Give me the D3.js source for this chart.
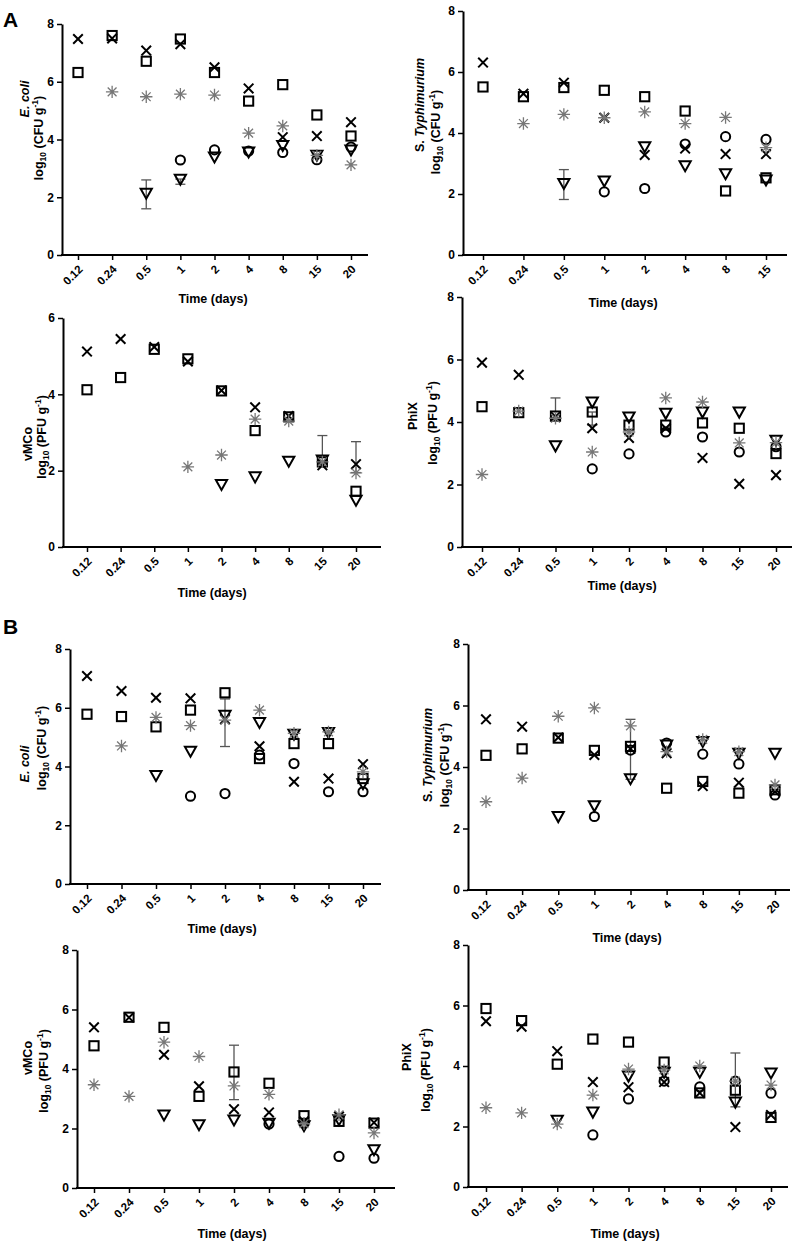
<!DOCTYPE html>
<html><head><meta charset="utf-8">
<script src="https://cdn.jsdelivr.net/npm/d3@7"></script>
<style>
body{margin:0;background:#fff;}
svg{display:block;font-family:"Liberation Sans",Arial,sans-serif;font-weight:bold;}
</style></head>
<body><svg id="c" width="800" height="1249"></svg>
<script>
// ---------- data ----------
const catsFull = ["0.12","0.24","0.5","1","2","4","8","15","20"];
const catsShort = ["0.12","0.24","0.5","1","2","4","8","15"];
const yTicks6 = [0,2,4,6];
const yTicks8 = [0,2,4,6,8];

// A: E. coli
const aEcoliCross  = [7.48,7.5,7.08,7.3,6.5,5.77,4.08,4.12,4.6];
const aEcoliSquare = [6.32,7.6,6.71,7.48,6.32,5.33,5.9,4.85,4.12];
const aEcoliStar   = [null,5.65,5.48,5.57,5.54,4.22,4.47,3.45,3.12];
const aEcoliCircle = [null,null,null,3.29,3.64,3.6,3.55,3.3,3.74];
const aEcoliTri    = [null,null,2.14,2.63,3.4,3.57,3.8,3.46,3.64];
const aEcoliErr    = [["0.5",1.6,2.6],["1",2.45,2.63]];
// A: S. Typhimurium
const aTyphCross  = [6.31,5.29,5.65,4.5,3.28,3.49,3.31,3.31];
const aTyphSquare = [5.51,5.19,5.49,5.4,5.19,4.72,2.1,2.53];
const aTyphStar   = [null,4.31,4.61,4.5,4.69,4.31,4.51,3.52];
const aTyphCircle = [null,null,null,2.07,2.18,3.64,3.88,3.79];
const aTyphTri    = [null,null,2.35,2.43,3.55,2.93,2.67,2.46];
const aTyphErr    = [["0.5",1.82,2.8]];
// A: vMCo
const aVmcoCross  = [5.12,5.45,5.24,4.86,4.1,3.66,3.43,2.14,2.17];
const aVmcoSquare = [4.12,4.44,5.18,4.93,4.09,3.05,3.41,2.23,1.46];
const aVmcoStar   = [null,null,null,2.1,2.41,3.35,3.3,2.23,1.94];
const aVmcoCircle = [null,null,null,null,null,null,null,null,null];
const aVmcoTri    = [null,null,null,null,1.64,1.84,2.25,2.28,1.23];
const aVmcoErr    = [["15",2.2,2.92],["20",1.95,2.76]];
// A: PhiX
const aPhixCross  = [5.9,5.51,4.17,3.8,3.49,3.8,2.85,2.02,2.3];
const aPhixSquare = [4.49,4.3,4.19,4.32,3.9,3.9,3.97,3.8,2.99];
const aPhixStar   = [2.32,4.35,4.12,3.04,3.68,4.77,4.64,3.33,3.34];
const aPhixCircle = [null,null,null,2.5,2.98,3.68,3.52,3.04,3.21];
const aPhixTri    = [null,null,3.24,4.64,4.16,4.28,4.32,4.32,3.42];
const aPhixErr    = [["0.5",4.15,4.77],["1",3.9,4.32]];
// B: E. coli
const bEcoliCross  = [7.08,6.57,6.34,6.32,5.61,4.69,3.48,3.59,4.08];
const bEcoliSquare = [5.78,5.7,5.35,5.92,6.51,4.27,4.78,4.78,3.59];
const bEcoliStar   = [null,4.7,5.67,5.39,5.58,5.92,5.13,5.18,3.82];
const bEcoliCircle = [null,null,null,2.99,3.08,4.39,4.1,3.14,3.14];
const bEcoliTri    = [null,null,3.7,4.52,5.75,5.5,5.1,5.16,3.42];
const bEcoliErr    = [["2",4.68,6.3]];
// B: S. Typhimurium
const bTyphCross  = [5.55,5.31,4.96,4.39,4.59,4.45,3.38,3.49,3.2];
const bTyphSquare = [4.38,4.59,4.94,4.54,4.67,3.31,3.53,3.15,3.26];
const bTyphStar   = [2.87,3.64,5.65,5.92,5.34,4.5,4.9,4.5,3.42];
const bTyphCircle = [null,null,null,2.39,4.55,4.78,4.42,4.1,3.09];
const bTyphTri    = [null,null,2.39,2.74,3.62,4.72,4.83,4.45,4.45];
const bTyphErr    = [["2",3.6,5.55]];
// B: vMCo
const bVmcoCross  = [5.4,5.73,4.48,3.42,2.65,2.54,2.24,2.4,2.2];
const bVmcoSquare = [4.78,5.74,5.4,3.08,3.9,3.52,2.43,2.24,2.18];
const bVmcoStar   = [3.47,3.08,4.9,4.42,3.43,3.15,2.16,2.46,1.85];
const bVmcoCircle = [null,null,null,null,null,2.15,2.18,1.06,1.0];
const bVmcoTri    = [null,null,2.46,2.13,2.29,2.18,2.1,2.3,1.29];
const bVmcoErr    = [["2",2.97,4.8]];
// B: PhiX
const bPhixCross  = [5.48,5.3,4.49,3.47,3.3,3.47,3.11,1.98,2.38];
const bPhixSquare = [5.9,5.5,4.06,4.89,4.79,4.13,3.11,3.2,2.3];
const bPhixStar   = [2.62,2.45,2.08,3.04,3.9,3.87,4.0,3.5,3.37];
const bPhixCircle = [null,null,null,1.72,2.91,3.5,3.31,3.5,3.1];
const bPhixTri    = [null,null,2.21,2.48,3.67,3.8,3.8,2.81,3.77];
const bPhixErr    = [["15",2.65,4.43]];

// ---------- layout ----------
const panels = [
 {cats:catsFull, ymax:8, ticks:yTicks8, ax:62, yt:24, yb:255, x0:78, x1:351, xe:368, tx:213, ty:303,
  sp:"ecoli", spx:29, spy:99, lgx:43, lgy:138, unit:"CFU",
  s:[aEcoliCircle,aEcoliTri,aEcoliSquare,aEcoliCross,aEcoliStar], err:aEcoliErr},
 {cats:catsShort, ymax:8, ticks:yTicks8, ax:463, yt:11, yb:255, x0:483, x1:766, xe:787, tx:623, ty:307,
  sp:"typh", spx:424, spy:105, lgx:440, lgy:132, unit:"CFU",
  s:[aTyphCircle,aTyphTri,aTyphSquare,aTyphCross,aTyphStar], err:aTyphErr},
 {cats:catsFull, ymax:6, ticks:yTicks6, ax:63, yt:318, yb:547, x0:87, x1:356, xe:381, tx:212, ty:597,
  sp:"vMCo", spx:32, spy:444, lgx:46, lgy:437, unit:"PFU",
  s:[aVmcoCircle,aVmcoTri,aVmcoSquare,aVmcoCross,aVmcoStar], err:aVmcoErr},
 {cats:catsFull, ymax:8, ticks:yTicks8, ax:462, yt:297, yb:547, x0:482, x1:776, xe:792, tx:622, ty:590,
  sp:"PhiX", spx:417, spy:416, lgx:437, lgy:423, unit:"PFU",
  s:[aPhixCircle,aPhixTri,aPhixSquare,aPhixCross,aPhixStar], err:aPhixErr},
 {cats:catsFull, ymax:8, ticks:yTicks8, ax:70, yt:649, yb:884, x0:87, x1:363, xe:381, tx:222, ty:933,
  sp:"ecoli", spx:29, spy:764, lgx:46, lgy:748, unit:"CFU",
  s:[bEcoliCircle,bEcoliTri,bEcoliSquare,bEcoliCross,bEcoliStar], err:bEcoliErr},
 {cats:catsFull, ymax:8, ticks:yTicks8, ax:468, yt:644, yb:890, x0:486, x1:775, xe:790, tx:627, ty:942,
  sp:"typh", spx:432, spy:755, lgx:449, lgy:765, unit:"CFU",
  s:[bTyphCircle,bTyphTri,bTyphSquare,bTyphCross,bTyphStar], err:bTyphErr},
 {cats:catsFull, ymax:8, ticks:yTicks8, ax:77, yt:950, yb:1188, x0:94, x1:374, xe:395, tx:232, ty:1238,
  sp:"vMCo", spx:32, spy:1058, lgx:48, lgy:1071, unit:"PFU",
  s:[bVmcoCircle,bVmcoTri,bVmcoSquare,bVmcoCross,bVmcoStar], err:bVmcoErr},
 {cats:catsFull, ymax:8, ticks:yTicks8, ax:468, yt:945, yb:1187, x0:486, x1:771, xe:788, tx:625, ty:1238,
  sp:"PhiX", spx:411, spy:1057, lgx:430, lgy:1070, unit:"PFU",
  s:[bPhixCircle,bPhixTri,bPhixSquare,bPhixCross,bPhixStar], err:bPhixErr}
];
const markerTypes = ["circle","tri","square","cross","star"];

const svg = d3.select("#c");
svg.append("text").attr("x",3).attr("y",27).attr("font-size",21).text("A");
svg.append("text").attr("x",3).attr("y",634).attr("font-size",21).text("B");

function marker(g, type, cx, cy){
  const m = g.append("g").attr("transform",`translate(${cx},${cy})`);
  if(type==="cross"){
    m.append("path").attr("d","M-4.8,-4.8L4.8,4.8M-4.8,4.8L4.8,-4.8").attr("stroke","#000").attr("stroke-width",2).attr("fill","none");
  } else if(type==="square"){
    m.append("rect").attr("x",-4.6).attr("y",-4.6).attr("width",9.2).attr("height",9.2).attr("stroke","#000").attr("stroke-width",2).attr("fill","none");
  } else if(type==="circle"){
    m.append("circle").attr("r",4.6).attr("stroke","#000").attr("stroke-width",2).attr("fill","none");
  } else if(type==="tri"){
    m.append("path").attr("d","M-5.6,-4.4L5.6,-4.4L0,5.6Z").attr("stroke","#000").attr("stroke-width",2).attr("fill","none").attr("stroke-linejoin","miter");
  } else {
    m.append("path").attr("d","M0,-6.2V6.2M-6.2,0H6.2M-4.4,-4.4L4.4,4.4M-4.4,4.4L4.4,-4.4").attr("stroke","#777").attr("stroke-width",1.3).attr("fill","none");
  }
}

panels.forEach(p=>{
  const g = svg.append("g");
  const x = d3.scalePoint().domain(p.cats).range([p.x0,p.x1]);
  const y = d3.scaleLinear().domain([0,p.ymax]).range([p.yb,p.yt]);

  // y axis
  const ya = g.append("g").attr("transform",`translate(${p.ax},0)`)
    .call(d3.axisLeft(y).tickValues(p.ticks).tickFormat(d3.format("d")).tickSize(5).tickSizeOuter(0).tickPadding(3));
  ya.select(".domain").attr("stroke-width",2);
  ya.selectAll(".tick line").attr("stroke-width",1.5);
  ya.selectAll(".tick text").attr("font-size",12).attr("font-weight","bold").attr("font-family","Liberation Sans, Arial, sans-serif");

  // x axis
  const xa = g.append("g").attr("transform",`translate(0,${p.yb})`)
    .call(d3.axisBottom(x).tickSize(5).tickSizeOuter(0));
  xa.select(".domain").remove();
  xa.selectAll(".tick line").attr("stroke-width",1.5);
  xa.selectAll(".tick text").attr("font-size",11.5).attr("font-weight","bold")
    .attr("font-family","Liberation Sans, Arial, sans-serif")
    .attr("y",null).attr("dy",null).attr("text-anchor","end")
    .attr("transform","translate(5,15) rotate(-45)");
  g.append("line").attr("x1",p.ax-1).attr("x2",p.xe).attr("y1",p.yb).attr("y2",p.yb)
    .attr("stroke","#000").attr("stroke-width",2);

  // titles
  g.append("text").attr("x",p.tx).attr("y",p.ty).attr("text-anchor","middle").attr("font-size",12.5).text("Time (days)");
  const sp = g.append("text").attr("transform",`translate(${p.spx},${p.spy}) rotate(-90)`).attr("text-anchor","middle").attr("font-size",12.5);
  if(p.sp==="ecoli"){ sp.append("tspan").attr("font-style","italic").text("E. coli"); }
  else if(p.sp==="typh"){ sp.append("tspan").text("S. "); sp.append("tspan").attr("font-style","italic").text("Typhimurium"); }
  else { sp.text(p.sp); }
  const lg = g.append("text").attr("transform",`translate(${p.lgx},${p.lgy}) rotate(-90)`).attr("text-anchor","middle").attr("font-size",12.5);
  lg.append("tspan").text("log");
  lg.append("tspan").attr("font-size",8.5).attr("dy",3).text("10");
  lg.append("tspan").attr("dy",-3).text(" (" + p.unit + " g");
  lg.append("tspan").attr("font-size",8.5).attr("dy",-5).text("-1");
  lg.append("tspan").attr("dy",5).text(")");

  // error bars
  p.err.forEach(e=>{
    const cx = x(e[0]);
    const eg = g.append("g").attr("stroke","#555").attr("stroke-width",1.3);
    eg.append("line").attr("x1",cx).attr("x2",cx).attr("y1",y(e[1])).attr("y2",y(e[2]));
    eg.append("line").attr("x1",cx-5).attr("x2",cx+5).attr("y1",y(e[1])).attr("y2",y(e[1]));
    eg.append("line").attr("x1",cx-5).attr("x2",cx+5).attr("y1",y(e[2])).attr("y2",y(e[2]));
  });

  // markers
  p.s.forEach((vals,si)=>{
    vals.forEach((v,i)=>{
      if(v===null) return;
      marker(g, markerTypes[si], x(p.cats[i]), y(v));
    });
  });
});
</script></body></html>
